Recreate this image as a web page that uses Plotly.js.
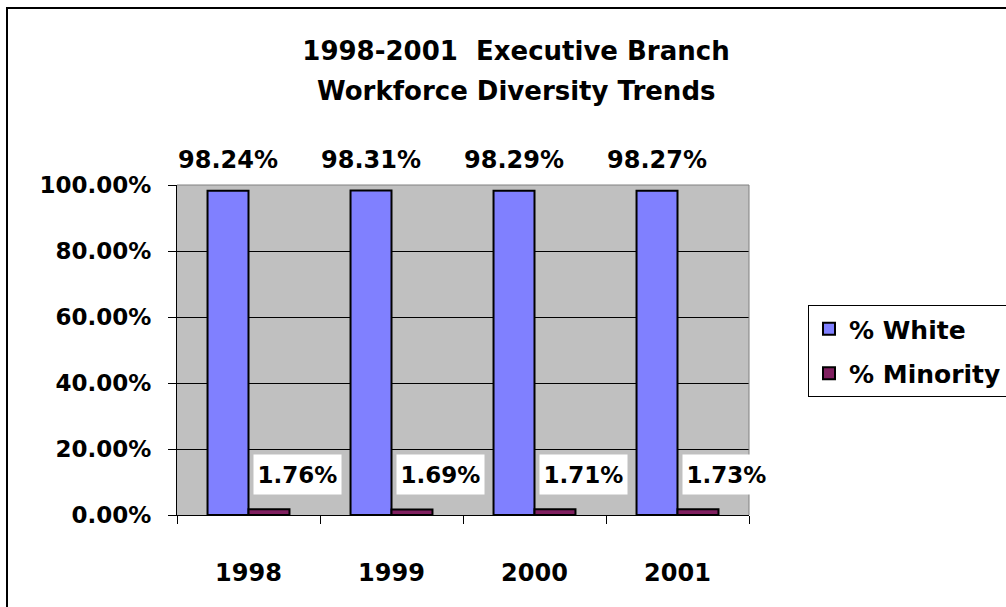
<!DOCTYPE html>
<html>
<head>
<meta charset="utf-8">
<script src="https://cdn.plot.ly/plotly-3.0.1.min.js"></script>
<style>
  html, body { margin: 0; padding: 0; background: #ffffff; }
  #chart { width: 1006px; height: 607px; }
</style>
</head>
<body>
<div id="chart"></div>
<script>
// ---- data ----
const years = ['1998', '1999', '2000', '2001'];
const whitePct = [98.24, 98.31, 98.29, 98.27];
const minorityPct = [1.76, 1.69, 1.71, 1.73];
const seriesNames = ['% White', '% Minority'];
const yTickVals = [0, 20, 40, 60, 80, 100];
const titleLines = ['1998-2001  Executive Branch', 'Workforce Diversity Trends'];

// ---- styling ----
const FONT = 'DejaVu Sans, Liberation Sans, Arial, sans-serif';
const W = 1006, H = 607;
const L = 177, R = 749, T = 185, B = 515;
const pw = R - L, ph = B - T;
const px2x = p => (p - L) / pw;
const py2y = p => (B - p) / ph;

const fmt = v => v.toFixed(2) + '%';

const traces = [
  {
    type: 'bar', name: seriesNames[0], x: years, y: whitePct,
    marker: { color: '#8080FF', line: { color: '#000000', width: 2 } },
    legendgroup: 'a', hoverinfo: 'skip'
  },
  {
    type: 'bar', name: seriesNames[1], x: years, y: minorityPct,
    marker: { color: '#802060', line: { color: '#000000', width: 2 } },
    legendgroup: 'b', hoverinfo: 'skip'
  }
];

const annotations = [];
years.forEach((yr, i) => {
  // x given as category index (numeric-looking category names would be read as indices)
  annotations.push({
    x: i, y: whitePct[i], xref: 'x', yref: 'y',
    text: fmt(whitePct[i]), showarrow: false,
    xanchor: 'center', yanchor: 'middle', xshift: -20.5, yshift: 31,
    font: { family: FONT, size: 24, color: '#000', weight: 'bold' }
  });
  annotations.push({
    x: i, y: minorityPct[i], xref: 'x', yref: 'y',
    text: fmt(minorityPct[i]), showarrow: false,
    xanchor: 'center', yanchor: 'middle', xshift: 49, yshift: 35,
    bgcolor: '#ffffff', borderpad: 1, width: 85, height: 37,
    font: { family: FONT, size: 23, color: '#000', weight: 'bold' }
  });
});
annotations.push({
  x: px2x(516), y: py2y(91), xref: 'paper', yref: 'paper',
  text: titleLines[1], showarrow: false, xanchor: 'center', yanchor: 'middle',
  font: { family: FONT, size: 26, color: '#000', weight: 'bold' }
});

const layout = {
  width: W, height: H,
  margin: { l: L, r: W - R, t: T, b: H - B, autoexpand: false },
  paper_bgcolor: '#ffffff',
  plot_bgcolor: '#C0C0C0',
  font: { family: FONT, color: '#000000', weight: 'bold' },
  title: {
    text: titleLines[0],
    x: 516 / W, xanchor: 'center', xref: 'container',
    y: 1 - 51 / H, yanchor: 'middle', yref: 'container',
    font: { family: FONT, size: 26, color: '#000', weight: 'bold' }
  },
  barmode: 'group', bargap: 0.427, bargroupgap: 0,
  showlegend: true,
  legend: {
    x: px2x(808), y: py2y(305), xanchor: 'left', yanchor: 'top',
    bgcolor: '#ffffff', bordercolor: '#000000', borderwidth: 1,
    font: { family: FONT, size: 25, color: '#000', weight: 'bold' },
    traceorder: 'grouped', tracegroupgap: 9
  },
  xaxis: {
    type: 'category', range: [-0.5, years.length - 0.5], autorange: false,
    tickson: 'boundaries',
    showline: true, linecolor: '#000000', linewidth: 1,
    ticks: 'outside', ticklen: 8, tickcolor: '#000000', tickwidth: 1,
    showgrid: false, zeroline: false, ticklabelstandoff: 36,
    tickfont: { family: FONT, size: 24, color: '#000', weight: 'bold' },
    fixedrange: true
  },
  yaxis: {
    range: [0, 100], autorange: false, tickvals: yTickVals,
    ticktext: yTickVals.map(v => v.toFixed(2) + '%'),
    showline: true, linecolor: '#000000', linewidth: 1,
    ticks: 'outside', ticklen: 8, tickcolor: '#000000', tickwidth: 1,
    showgrid: true, gridcolor: '#000000', gridwidth: 1, zeroline: false,
    ticklabelstandoff: 12,
    tickfont: { family: FONT, size: 23, color: '#000', weight: 'bold' },
    fixedrange: true
  },
  shapes: [
    { type: 'path', xref: 'paper', yref: 'paper', path: 'M0,1 L1,1 L1,0',
      line: { color: '#808080', width: 1 }, layer: 'above' },
    { type: 'rect', xref: 'paper', yref: 'paper',
      x0: px2x(7), x1: 2, y0: -1, y1: py2y(8),
      line: { color: '#000000', width: 2 }, fillcolor: 'rgba(0,0,0,0)', layer: 'above' }
  ],
  annotations: annotations
};

Plotly.newPlot('chart', traces, layout, { staticPlot: true, displayModeBar: false });
</script>
</body>
</html>
